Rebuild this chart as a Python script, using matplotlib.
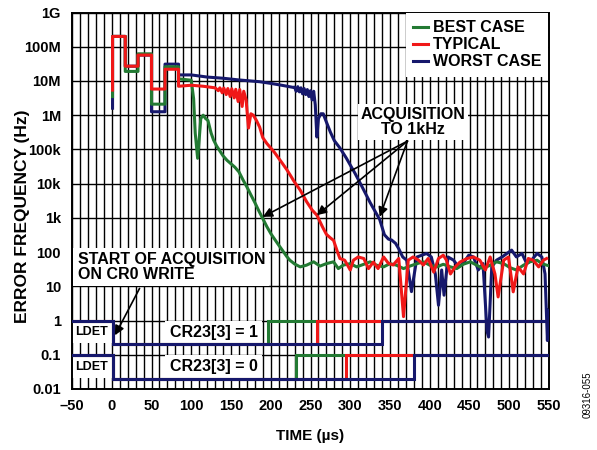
import numpy as np
import matplotlib.pyplot as plt
from matplotlib.ticker import FixedLocator, MultipleLocator

plt.rcParams['font.family'] = ['Liberation Sans', 'DejaVu Sans']
plt.rcParams['font.weight'] = 'bold'

# time in us, error frequency in Hz
best_t = [1, 1, 17, 17, 33, 33, 50, 50, 67, 67, 84, 84, 92, 100, 103, 105, 108, 110, 112, 115,
          118, 121, 125, 128, 132, 136, 140, 145, 150, 155, 160, 165, 170, 175, 180, 185, 190,
          195, 200, 203, 210, 215, 220, 224, 230, 237, 245, 254, 262, 270, 279, 285, 291, 300,
          308, 317, 325, 333, 342, 350, 358, 367, 375, 384, 392, 400, 409, 417, 426, 434, 442,
          451, 459, 467, 476, 484, 493, 501, 509, 518, 526, 535, 541, 547, 550]
best_f = [3.5e6, 2e8, 2e8, 1.9e7, 1.9e7, 6.2e7, 6.2e7, 2.1e6, 2.1e6, 2.6e7, 2.6e7, 1.15e7, 1.1e7,
          1.05e7, 3e6, 3e5, 5.5e4, 2e5, 8e5, 1e6, 8e5, 7e5, 3e5, 1.9e5, 1.25e5, 9e4, 6.5e4, 4.8e4,
          3.8e4, 3e4, 2.2e4, 1.3e4, 8e3, 4.7e3, 2.8e3, 1.6e3, 950, 560, 350, 275, 160, 110, 75, 58,
          45, 37, 41.5, 52, 39, 46, 52, 33, 41.5, 46, 37, 44, 52, 41.5, 37, 46, 41.5, 33, 39, 46,
          52, 41.5, 37, 44, 37, 33, 44, 52, 41.5, 33, 41.5, 52, 46, 35, 30, 41.5, 52, 58, 46, 41.5, 40]

typ_t = [1, 1, 17, 17, 33, 33, 50, 50, 67, 67, 84, 84, 100, 115, 130, 134, 136, 139, 141, 144,
         146, 149, 151, 154, 156, 159, 161, 164, 166, 169, 172, 175, 178, 182, 186, 190, 195, 200,
         205, 210, 215, 220, 225, 230, 237, 245, 252, 258, 265, 270, 275, 279, 284, 287, 293, 300,
         304, 310, 317, 323, 329, 335, 342, 348, 354, 361, 367, 373, 379, 386, 392, 398, 405, 411,
         417, 421, 426, 432, 438, 447, 455, 463, 470, 476, 482, 486, 493, 499, 505, 511, 518, 524,
         530, 537, 543, 547]
typ_f = [5.4e6, 2e8, 2e8, 2.7e7, 2.7e7, 5.7e7, 5.7e7, 5.8e6, 5.8e6, 2.2e7, 2.2e7, 7e6, 7.5e6, 7e6,
         6.3e6, 5.2e6, 6.3e6, 4.5e6, 6.2e6, 4e6, 6e6, 3.5e6, 5.9e6, 3.2e6, 5.7e6, 2.5e6, 5.6e6,
         1.8e6, 5e6, 2.8e6, 4.2e5, 1.1e6, 1e6, 7e5, 4.5e5, 2.2e5, 1.5e5, 1.1e5, 8e4, 5.5e4, 3.8e4,
         2.6e4, 1.7e4, 1.1e4, 6.5e3, 3e3, 1.7e3, 1.2e3, 550, 330, 260, 220, 100, 65, 58, 30, 58, 72,
         65, 33, 51, 33, 72, 47, 42, 65, 1.3, 58, 72, 58, 42, 65, 26, 65, 81, 58, 23, 37, 51, 65, 72,
         58, 30, 72, 23, 4.9, 58, 72, 6.9, 37, 23, 65, 58, 37, 58, 65]

worst_t = [1, 1, 17, 17, 33, 33, 50, 50, 67, 67, 84, 84, 100, 120, 140, 160, 186, 200, 215, 228,
           230, 232, 234, 236, 238, 240, 242, 244, 246, 248, 250, 252, 254, 256, 258, 260, 263,
           266, 270, 275, 280, 287, 295, 306, 315, 325, 337, 343, 348, 352, 357, 361, 366, 371,
           377, 384, 390, 396, 402, 407, 411, 415, 418, 423, 430, 436, 442, 449, 455, 461, 467,
           472, 474, 478, 484, 491, 497, 503, 509, 516, 522, 528, 535, 541, 545, 548, 549]
worst_f = [1.6e6, 2e8, 2e8, 2.7e7, 2.7e7, 5.7e7, 5.7e7, 1.26e6, 1.26e6, 3.1e7, 3.1e7, 1.5e7, 1.5e7,
           1.3e7, 1.2e7, 1.07e7, 9.5e6, 8.5e6, 7.4e6, 6.5e6, 6.6e6, 5e6, 6.8e6, 4.8e6, 6.3e6, 4.2e6,
           6e6, 4e6, 5.6e6, 3.5e6, 5.2e6, 2.8e6, 5e6, 2e6, 2.3e5, 8e5, 1.1e6, 1.1e6, 6.3e5, 3.2e5,
           1.8e5, 1.1e5, 5.6e4, 2e4, 8e3, 2.8e3, 900, 320, 240, 225, 180, 125, 72, 58, 7, 72, 81, 91,
           72, 23, 2.8, 30, 5.5, 72, 58, 37, 46, 81, 72, 30, 46, 0.5, 0.33, 37, 58, 72, 91, 114, 72,
           91, 46, 58, 91, 72, 23, 0.26, 2]

# LDET steps: rise time for CR23[3] = 1 and CR23[3] = 0
rise_cr1 = {'best': 196, 'typ': 258, 'worst': 340}
rise_cr0 = {'best': 232, 'typ': 295, 'worst': 380}
ldet_levels_cr1 = (1, 0.2)
ldet_levels_cr0 = (0.1, 0.02)

green = '#237a33'
red = '#f01818'
navy = '#16186c'

fig = plt.figure(figsize=(5.97, 4.5), dpi=100)
ax = fig.add_axes([72/597, 1-389/450, 477/597, 376.5/450])

ax.set_yscale('log')
ax.set_xlim(-50, 550)
ax.set_ylim(0.01, 1e9)

ax.plot(worst_t, worst_f, color=navy, lw=2.2, zorder=3, label='WORST CASE')
ax.plot(best_t, best_f, color=green, lw=2.2, zorder=4, label='BEST CASE')
ax.plot(typ_t, typ_f, color=red, lw=2.2, zorder=5, label='TYPICAL')

for rises, (hi, lo) in [(rise_cr1, ldet_levels_cr1), (rise_cr0, ldet_levels_cr0)]:
    for key, col, z in [('best', green, 3.1), ('typ', red, 3.2), ('worst', navy, 3.3)]:
        r = rises[key]
        ax.plot([-50, 1, 1, r, r, 550], [hi, hi, lo, lo, hi, hi], color=col, lw=2.2, zorder=z,
                solid_joinstyle='miter')

# grid
ax.set_axisbelow(True)
ax.xaxis.set_minor_locator(MultipleLocator(10))
xt = list(range(-50, 551, 50))
ax.set_xticks(xt)
ax.set_xticklabels([str(v).replace('-', '\u2013') for v in xt])
yt = [1e-2, 1e-1, 1, 10, 100, 1e3, 1e4, 1e5, 1e6, 1e7, 1e8, 1e9]
ylab = ['0.01', '0.1', '1', '10', '100', '1k', '10k', '100k', '1M', '10M', '100M', '1G']
ax.yaxis.set_major_locator(FixedLocator(yt))
ax.yaxis.set_minor_locator(FixedLocator([]))
ax.set_yticklabels(ylab)
ax.grid(True, which='both', axis='x', color='black', lw=1.0)
ax.grid(True, which='major', axis='y', color='black', lw=1.0)
ax.tick_params(which='both', length=0, labelsize=10.5)
ax.tick_params(axis='y', pad=8)
ax.tick_params(axis='x', pad=7)
for s in ax.spines.values():
    s.set_linewidth(1.4)

ax.set_xlabel('TIME (\u00b5s)', fontsize=11, fontweight='bold', labelpad=12)
ax.set_ylabel('ERROR FREQUENCY (Hz)', fontsize=12.5, fontweight='bold')
ax.yaxis.set_label_coords(-0.088, 0.46)

leg = ax.legend(handles=[ax.lines[1], ax.lines[2], ax.lines[0]], loc='upper right',
                fontsize=11.5, frameon=True, fancybox=False, framealpha=1, edgecolor='none',
                borderaxespad=0.05, handlelength=0.9, handletextpad=0.3, labelspacing=0.12,
                borderpad=0.45)
leg.set_zorder(10)

box = dict(facecolor='white', edgecolor='none', pad=2)
ax.text(379, 6.3e5, 'ACQUISITION\nTO 1kHz', ha='center', va='center', fontsize=11.5,
        linespacing=1.0, bbox=box, zorder=6)
tail = (372, 1.75e5)
for head in [(190, 1.07e3), (258, 1.2e3), (337, 1.07e3)]:
    ax.annotate('', xy=head, xytext=tail, zorder=7,
                arrowprops=dict(arrowstyle='-|>', color='black', lw=1.2, mutation_scale=14,
                                shrinkA=0, shrinkB=0))

ax.text(-43, 37, 'START OF ACQUISITION\nON CR0 WRITE', ha='left', va='center', fontsize=11.5,
        linespacing=1.0, bbox=dict(facecolor='white', edgecolor='none', pad=3), zorder=6)
ax.annotate('', xy=(4, 0.37), xytext=(35, 8.7), zorder=7,
            arrowprops=dict(arrowstyle='-|>', color='black', lw=1.2, mutation_scale=14,
                            shrinkA=0, shrinkB=0))

for y in [0.45, 0.045]:
    ax.text(-25, y, 'LDET', ha='center', va='center', fontsize=9,
            bbox=dict(facecolor='white', edgecolor='none', pad=3.5), zorder=2.5)
ax.text(128, 0.45, 'CR23[3] = 1', ha='center', va='center', fontsize=11.5,
        bbox=dict(facecolor='white', edgecolor='none', pad=3), zorder=2.5)
ax.text(128, 0.045, 'CR23[3] = 0', ha='center', va='center', fontsize=11.5,
        bbox=dict(facecolor='white', edgecolor='none', pad=3), zorder=2.5)

fig.text(588/597, 1-395/450, '09316-055', rotation=90, ha='center', va='center',
         fontsize=7, fontweight='normal')

fig.savefig('out.png', dpi=100)
